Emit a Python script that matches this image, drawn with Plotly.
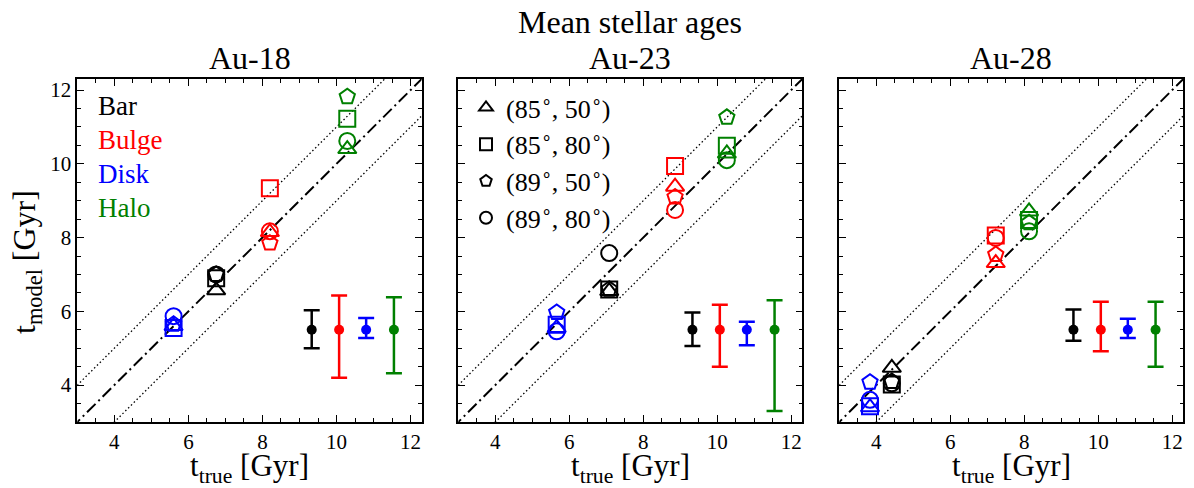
import plotly.graph_objects as go

FONT = "Liberation Serif, Times New Roman, Times, serif"

components = ["Bar", "Bulge", "Disk", "Halo"]
comp_colors = ["#000000", "#ff0000", "#0000ff", "#008000"]
views = ["(85<sup>∘</sup>, 50<sup>∘</sup>)", "(85<sup>∘</sup>, 80<sup>∘</sup>)",
         "(89<sup>∘</sup>, 50<sup>∘</sup>)", "(89<sup>∘</sup>, 80<sup>∘</sup>)"]
view_symbols = ["triangle-up-open", "square-open", "pentagon-open", "circle-open"]
panels = ["Au-18", "Au-23", "Au-28"]

# true ages per component (Bar, Bulge, Disk, Halo)
au18_true = [6.75, 8.20, 5.60, 10.29]
au23_true = [7.08, 8.86, 5.66, 10.26]
au28_true = [4.42, 7.23, 3.83, 8.13]

# model ages per component, ordered by view: tri, square, pentagon, circle
au18_bar = [6.57, 6.90, 7.00, 7.00]
au18_bulge = [8.15, 9.34, 7.85, 8.17]
au18_disk = [5.60, 5.55, 5.65, 5.87]
au18_halo = [10.40, 11.22, 11.82, 10.62]

au23_bar = [6.55, 6.59, 6.60, 7.58]
au23_bulge = [9.38, 9.94, 9.10, 8.75]
au23_disk = [5.55, 5.64, 5.97, 5.46]
au23_halo = [10.28, 10.49, 11.26, 10.10]

au28_bar = [4.47, 4.02, 4.10, 4.05]
au28_bulge = [7.31, 8.06, 7.54, 7.99]
au28_disk = [3.40, 3.43, 4.08, 3.60]
au28_halo = [8.71, 8.48, 8.40, 8.17]

# typical uncertainty bars (center, plus, minus) per component
err_x = [9.33, 10.07, 10.80, 11.55]
err_center = 5.5
au18_err_plus = [0.53, 0.93, 0.32, 0.88]
au18_err_minus = [0.50, 1.30, 0.22, 1.18]
au23_err_plus = [0.47, 0.68, 0.22, 0.80]
au23_err_minus = [0.44, 1.00, 0.42, 2.20]
au28_err_plus = [0.55, 0.76, 0.30, 0.76]
au28_err_minus = [0.30, 0.58, 0.22, 1.00]

# one-to-one line and +/- 1 Gyr band
line_x = [2.0, 13.0]
band_offset = 1.0

panel_true = [au18_true, au23_true, au28_true]
panel_model = [
    [au18_bar, au18_bulge, au18_disk, au18_halo],
    [au23_bar, au23_bulge, au23_disk, au23_halo],
    [au28_bar, au28_bulge, au28_disk, au28_halo],
]
panel_err = [
    (au18_err_plus, au18_err_minus),
    (au23_err_plus, au23_err_minus),
    (au28_err_plus, au28_err_minus),
]

W, H = 1194, 488
x_domains_px = [(77.3, 421.7), (458.3, 802.3), (839.3, 1183.3)]
y_top_px, y_bot_px = 79, 422
ydom = [1 - y_bot_px / H, 1 - y_top_px / H]
xrange_ = [3.0, 12.3]
yrange_ = [3.0, 12.3]

fig = go.Figure()
layout = dict(
    width=W, height=H,
    margin=dict(l=0, r=0, t=0, b=0),
    paper_bgcolor="white", plot_bgcolor="white",
    font=dict(family=FONT, size=21, color="black"),
    showlegend=True,
)

for p in range(3):
    xa = "x" if p == 0 else f"x{p+1}"
    ya = "y" if p == 0 else f"y{p+1}"
    xkey = "xaxis" if p == 0 else f"xaxis{p+1}"
    ykey = "yaxis" if p == 0 else f"yaxis{p+1}"
    dom = [x_domains_px[p][0] / W, x_domains_px[p][1] / W]
    common = dict(
        showgrid=False, zeroline=False, showline=True, linecolor="black", linewidth=1.5,
        mirror="ticks", ticks="inside", ticklen=7, tickwidth=1.2, tickcolor="black",
        dtick=2, tick0=0,
        minor=dict(dtick=0.5, tick0=0, ticks="inside", ticklen=4, tickwidth=1, tickcolor="black"),
        tickfont=dict(family=FONT, size=21),
    )
    layout[xkey] = dict(common, domain=dom, range=xrange_, anchor=ya)
    layout[ykey] = dict(common, domain=ydom, range=yrange_, anchor=xa,
                        showticklabels=(p == 0))

    # reference lines
    fig.add_trace(go.Scatter(x=line_x, y=line_x, mode="lines", xaxis=xa, yaxis=ya,
                             line=dict(color="black", width=2, dash="12px,4px,2px,4px"),
                             showlegend=False, hoverinfo="skip"))
    for s in (1, -1):
        fig.add_trace(go.Scatter(x=line_x, y=[v + s * band_offset for v in line_x],
                                 mode="lines", xaxis=xa, yaxis=ya,
                                 line=dict(color="black", width=1.3, dash="1.5px,2.5px"),
                                 showlegend=False, hoverinfo="skip"))

    # data points
    for c in range(4):
        for v in range(4):
            fig.add_trace(go.Scatter(
                x=[panel_true[p][c]], y=[panel_model[p][c][v]], mode="markers",
                xaxis=xa, yaxis=ya,
                marker=dict(symbol=view_symbols[v], size=16, color=comp_colors[c],
                            line=dict(width=2, color=comp_colors[c])),
                showlegend=False, name=f"{components[c]} {v}"))

    # error bars
    plus, minus = panel_err[p]
    for c in range(4):
        fig.add_trace(go.Scatter(
            x=[err_x[c]], y=[err_center], mode="markers", xaxis=xa, yaxis=ya,
            marker=dict(symbol="circle", size=10, color=comp_colors[c]),
            error_y=dict(type="data", array=[plus[c]], arrayminus=[minus[c]],
                         color=comp_colors[c], thickness=2.5, width=8),
            showlegend=False))

# legend entries (views) in panel 2
for v in range(4):
    fig.add_trace(go.Scatter(
        x=[None], y=[None], mode="markers", xaxis="x2", yaxis="y2",
        marker=dict(symbol=view_symbols[v], size=17, color="black",
                    line=dict(width=2, color="black")),
        name=views[v], showlegend=True))

layout["legend"] = dict(
    x=466 / W, y=1 - 84 / H, xanchor="left", yanchor="top",
    bgcolor="rgba(0,0,0,0)", borderwidth=0,
    font=dict(family=FONT, size=26, color="black"),
    itemsizing="constant", tracegroupgap=0,
)

annotations = []
# colored component labels in panel 1
label_y_px = [106, 140, 174, 208]
for c in range(4):
    annotations.append(dict(
        text=components[c], x=96 / W, y=1 - label_y_px[c] / H, xref="paper", yref="paper",
        xanchor="left", yanchor="middle", showarrow=False,
        font=dict(family=FONT, size=27, color=comp_colors[c])))

# panel titles and x titles
for p in range(3):
    cx = (x_domains_px[p][0] + x_domains_px[p][1]) / 2
    annotations.append(dict(
        text=panels[p], x=cx / W, y=1 - 58 / H, xref="paper", yref="paper",
        xanchor="center", yanchor="middle", showarrow=False,
        font=dict(family=FONT, size=32, color="black")))
    annotations.append(dict(
        text="t<sub>true</sub> [Gyr]", x=cx / W, y=1 - 468 / H, xref="paper", yref="paper",
        xanchor="center", yanchor="middle", showarrow=False,
        font=dict(family=FONT, size=31, color="black")))

# overall title
annotations.append(dict(
    text="Mean stellar ages", x=630 / W, y=1 - 22 / H, xref="paper", yref="paper",
    xanchor="center", yanchor="middle", showarrow=False,
    font=dict(family=FONT, size=32, color="black")))

# y-axis title
annotations.append(dict(
    text="t<sub>model</sub> [Gyr]", x=26 / W, y=1 - 262 / H, xref="paper", yref="paper",
    xanchor="center", yanchor="middle", textangle=-90, showarrow=False,
    font=dict(family=FONT, size=32, color="black")))

layout["annotations"] = annotations
fig.update_layout(**layout)

fig.write_html(
    "out.html",
    config={"displayModeBar": False},
    post_script="document.body.style.margin='0';document.body.style.overflow='hidden';",
)
